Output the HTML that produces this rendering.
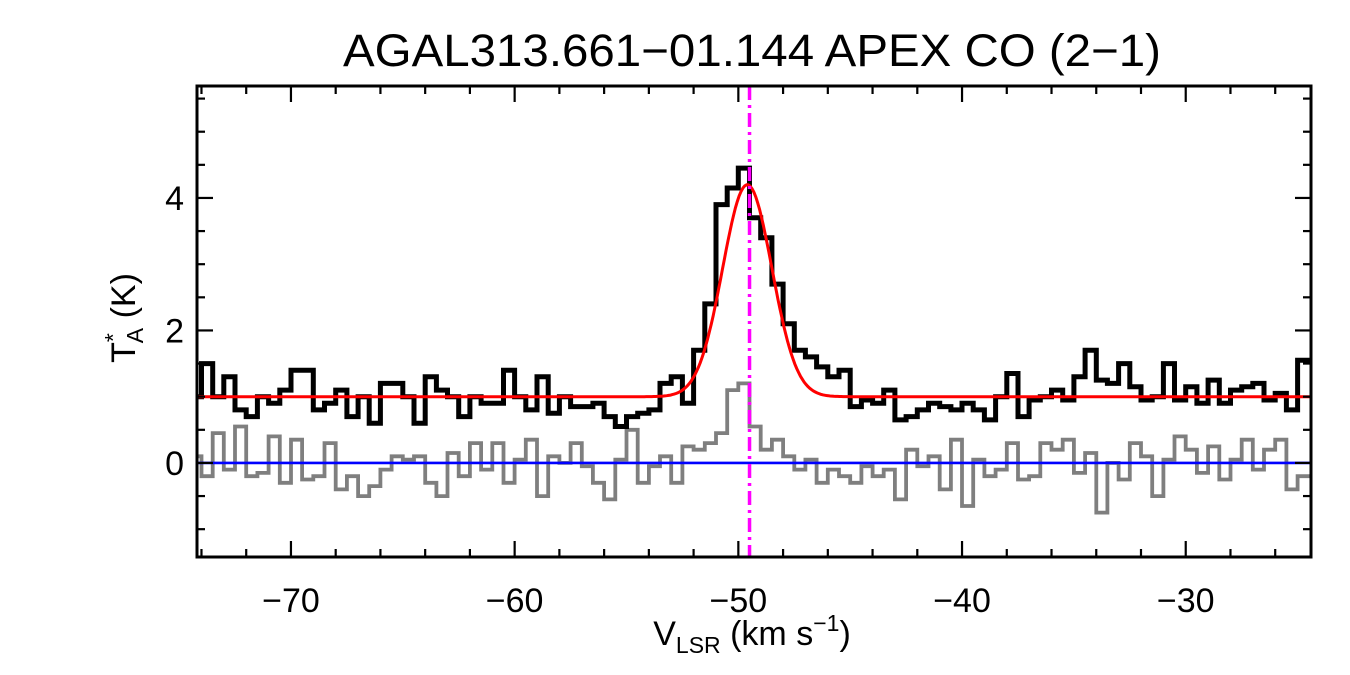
<!DOCTYPE html>
<html><head><meta charset="utf-8">
<style>
html,body{margin:0;padding:0;background:#fff;}
svg{display:block;font-family:"Liberation Sans",Arial,sans-serif;}
</style></head>
<body>
<svg id="chart" width="1350" height="675" viewBox="0 0 1350 675">
<text x="752" y="66" font-size="45" text-anchor="middle" textLength="818" lengthAdjust="spacingAndGlyphs">AGAL313.661−01.144  APEX CO (2−1)</text>
<text x="752" y="645" font-size="34" text-anchor="middle">V<tspan font-size="23" dy="8">LSR</tspan><tspan dy="-8"> (km s</tspan><tspan font-size="23" dy="-14">−1</tspan><tspan dy="14">)</tspan></text>
<text transform="translate(135,318) rotate(-90)" font-size="34" text-anchor="middle">T<tspan font-size="23" dy="-14">*</tspan><tspan font-size="23" dx="-10" dy="22">A</tspan><tspan dy="-8"> (K)</tspan></text>
<g id="plot"></g>
</svg>
<script>
const xMin=-74.2, xMax=-24.4, yMin=-1.42, yMax=5.69;
const L=197, R=1311, T=86, B=557;
const chanStart=-74.5, chanWidth=0.5;
const spectrum=[1.0,1.5,1.0,1.3,0.8,0.7,1.0,0.9,1.1,1.4,1.4,0.8,0.9,1.1,0.7,1.0,0.6,1.2,1.2,1.0,0.6,1.3,1.1,1.0,0.7,1.0,0.9,0.9,1.4,1.0,0.8,1.3,
0.75,1.0,0.85,0.85,0.9,0.7,0.55,0.7,0.75,0.8,1.2,1.3,0.9,1.7,2.4,3.9,4.15,4.45,3.7,3.4,2.7,2.1,1.7,1.6,1.45,1.3,1.4,0.85,0.95,0.9,1.1,0.65,0.7,0.8,
0.9,0.85,0.8,0.9,0.8,0.65,1.0,1.35,0.7,0.95,1.0,1.1,0.95,1.3,1.7,1.25,1.2,1.5,1.15,0.95,1.0,1.5,0.95,1.15,0.9,1.25,0.9,1.1,1.15,1.2,0.95,1.05,0.8,1.55,1.55];
const residual=[0.1,-0.2,0.45,-0.1,0.55,-0.2,-0.15,0.4,-0.3,0.35,-0.25,-0.2,0.3,-0.4,-0.2,-0.5,-0.35,-0.1,0.1,0.05,0.1,-0.3,-0.5,0.15,-0.2,0.3,-0.1,0.3,-0.3,0.05,0.35,-0.5,
0.1,0,0.3,-0.05,-0.3,-0.55,0.05,0.5,-0.3,-0.05,0.1,-0.3,0.25,0.2,0.3,0.45,1.1,1.2,0.55,0.2,0.35,0.1,-0.1,0.05,-0.3,-0.1,-0.2,-0.3,-0.05,-0.2,-0.1,-0.55,0.2,-0.05,
0.1,-0.4,0.35,-0.65,0.05,-0.2,-0.1,0.3,-0.25,-0.2,0.3,0.2,0.35,-0.15,0.15,-0.75,0,-0.25,0.3,0.1,-0.5,0.05,0.4,0.2,-0.15,0.25,-0.25,0.05,0.35,-0.1,0.2,0.35,-0.4,-0.2,-0.2];
const fitBase=1.0, fitAmp=3.2, fitCenter=-49.6, fitSigma=1.1;
const markerV=-49.5;
const xTicks=[-70,-60,-50,-40,-30];
const xTickLabels=["−70","−60","−50","−40","−30"];
const yTicks=[0,2,4];
const yTickLabels=["0","2","4"];

const sx=v=>L+(v-xMin)/(xMax-xMin)*(R-L);
const sy=v=>B-(v-yMin)/(yMax-yMin)*(B-T);
const NS="http://www.w3.org/2000/svg";
const g=document.getElementById('plot');
function mk(tag,attrs){const e=document.createElementNS(NS,tag);for(const k in attrs)e.setAttribute(k,attrs[k]);g.appendChild(e);return e;}

const cp=mk('clipPath',{id:'clip'});
const cr=document.createElementNS(NS,'rect');cr.setAttribute('x',L);cr.setAttribute('y',T);cr.setAttribute('width',R-L);cr.setAttribute('height',B-T);cp.appendChild(cr);

function stepPath(arr){let d='';arr.forEach((v,i)=>{const x0=sx(chanStart+i*chanWidth),x1=sx(chanStart+(i+1)*chanWidth),y=sy(v);d+=(i?'L':'M')+x0.toFixed(1)+','+y.toFixed(1)+'L'+x1.toFixed(1)+','+y.toFixed(1);});return d;}

const rp=mk('path',{d:stepPath(residual),fill:'none',stroke:'#7f7f7f','stroke-width':3.8,'clip-path':'url(#clip)'});


const sp=mk('path',{d:stepPath(spectrum),fill:'none',stroke:'#000','stroke-width':5,'clip-path':'url(#clip)'});



let fd='';for(let i=0;i<=600;i++){const v=xMin+(xMax-xMin)*i/600;const t=fitBase+fitAmp*Math.exp(-0.5*Math.pow((v-fitCenter)/fitSigma,2));fd+=(i?'L':'M')+sx(v).toFixed(1)+','+sy(t).toFixed(1);}
const fp=mk('path',{d:fd,fill:'none',stroke:'#ff0000','stroke-width':3});



const zl=mk('line',{x1:L,x2:R,y1:sy(0),y2:sy(0),stroke:'#0000ff','stroke-width':2.6});



const ml=mk('line',{x1:sx(markerV),x2:sx(markerV),y1:T,y2:B,stroke:'#ff00ff','stroke-width':3.5,'stroke-dasharray':'14,5,3,5'});



const fr=mk('rect',{x:L,y:T,width:R-L,height:B-T,fill:'none',stroke:'#000','stroke-width':3});



for(let v=-74;v<=-25;v+=2){const x=sx(v);const major=v%10===0;const len=major?16:8;
 const t1=mk('line',{x1:x,x2:x,y1:B,y2:B-len,stroke:'#000','stroke-width':2.2});
 
 
 const t2=mk('line',{x1:x,x2:x,y1:T,y2:T+len,stroke:'#000','stroke-width':2.2});
 
 }
xTicks.forEach((v,i)=>{const t=mk('text',{x:sx(v),y:B+55,'font-size':34,'text-anchor':'middle'});t.textContent=xTickLabels[i];
 
 });
for(let v=-1;v<=5.5;v+=0.5){const y=sy(v);const major=Math.abs(v%2)<1e-9;const len=major?16:8;
 const t1=mk('line',{x1:L,x2:L+len,y1:y,y2:y,stroke:'#000','stroke-width':2.2});
 
 
 const t2=mk('line',{x1:R,x2:R-len,y1:y,y2:y,stroke:'#000','stroke-width':2.2});
 
 }
yTicks.forEach((v,i)=>{const t=mk('text',{x:L-13,y:sy(v)+12,'font-size':34,'text-anchor':'end'});t.textContent=yTickLabels[i];
 
 });
</script>
</body></html>
